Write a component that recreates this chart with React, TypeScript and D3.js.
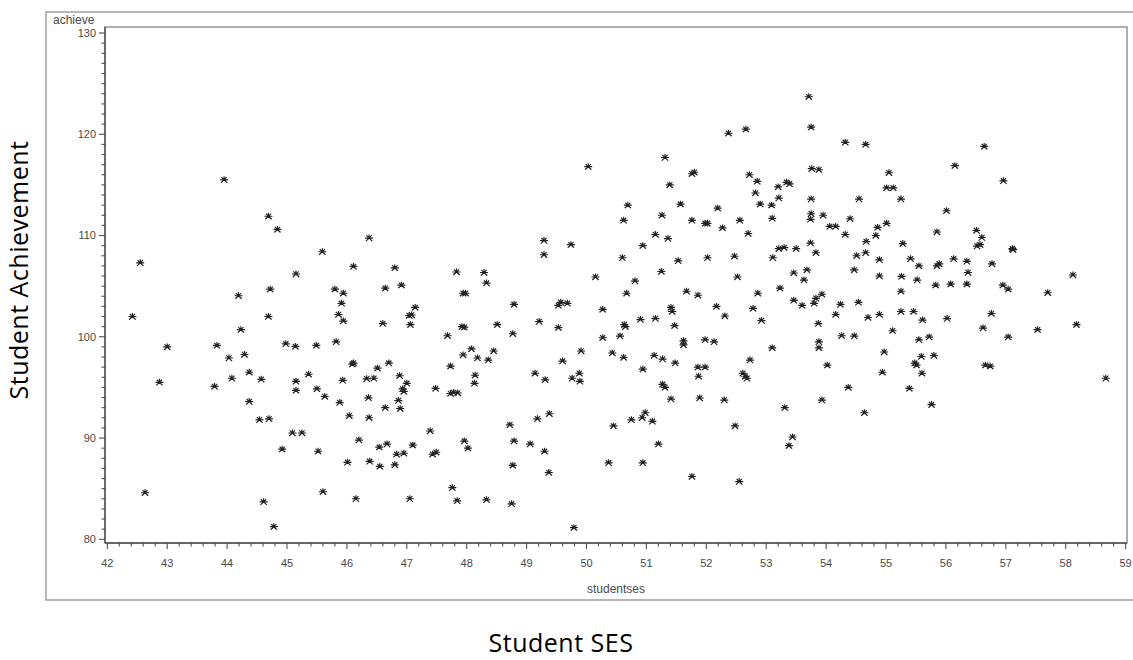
import React from "react";
import * as d3 from "d3";

// values (studentses, achieve)
const studentSes = [
  43.95, 44.69, 44.84, 42.55, 45.15, 44.72, 44.19, 42.42, 44.69, 44.23, 43.0, 43.83, 44.98, 45.14, 44.03, 44.29,
  44.37, 44.08, 44.57, 45.15, 45.36, 42.87, 43.79, 45.15, 44.37, 44.54, 44.7, 45.09, 45.25, 44.92, 42.63, 44.61,
  44.78,
  46.37, 45.59, 46.11, 46.8, 46.91, 45.8, 45.94, 46.64, 47.14, 45.91, 45.86, 45.94, 47.04, 47.08, 47.06, 46.6,
  45.49, 45.82, 46.09, 46.11, 46.7, 46.51, 45.93, 46.33, 46.45, 46.88, 47.0, 46.93, 46.95, 45.5, 45.63, 46.36,
  45.88, 46.86, 46.64, 46.89, 46.04, 46.37, 46.2, 46.54, 46.67, 45.52, 46.83, 46.95, 47.1, 46.01, 46.38, 46.55,
  46.8, 45.6, 46.15, 47.05,
  47.83, 48.29, 48.33, 47.94, 47.98, 48.79, 47.92, 47.96, 48.51, 48.77, 47.68, 48.08, 47.94, 48.18, 48.45, 48.36,
  47.73, 48.14, 48.13, 47.48, 47.73, 47.78, 47.85, 48.72, 48.79, 47.39, 47.96, 48.02, 47.43, 47.49, 48.77, 47.76,
  47.84, 48.33, 48.75,
  51.31, 50.03, 51.76, 51.8, 51.39, 50.69, 51.57, 52.19, 50.62, 51.26, 51.76, 51.98, 52.02, 51.15, 51.36, 49.29,
  49.29, 49.74, 50.94, 50.6, 51.53, 52.02, 51.25, 50.15, 50.81, 50.67, 51.67, 51.86, 49.53, 49.57, 49.68, 50.27,
  52.17, 51.41, 51.43, 49.21, 49.53, 50.63, 50.65, 50.9, 51.15, 51.47, 50.27, 50.56, 51.62, 51.62, 51.98, 52.13,
  49.91, 50.43, 50.62, 51.13, 51.27, 51.48, 49.6, 49.14, 49.31, 49.76, 49.88, 49.89, 50.94, 51.86, 51.98, 51.87,
  51.27, 51.31, 51.41, 51.89, 49.18, 49.38, 50.45, 50.75, 50.93, 50.98, 51.1, 49.06, 49.3, 51.2, 49.37, 50.37,
  50.94, 51.76, 49.79,
  53.71, 53.75, 52.37, 52.66, 54.32, 54.66, 52.72, 52.85, 53.76, 53.88, 55.05, 52.82, 53.2, 53.34, 53.39, 55.01,
  55.12, 52.9, 53.09, 53.21, 53.75, 54.55, 55.25, 52.56, 52.27, 52.7, 53.1, 53.75, 53.74, 53.95, 54.06, 54.16,
  54.32, 54.4, 54.86, 54.83, 55.01, 55.28, 54.67, 54.66, 54.51, 54.89, 52.47, 53.11, 53.21, 53.3, 53.5, 53.74,
  53.83, 55.41, 55.55, 52.52, 53.46, 53.68, 53.63, 54.47, 54.89, 55.26, 55.52, 52.86, 53.23, 55.25, 52.78, 52.31,
  52.92, 53.46, 53.6, 53.8, 53.83, 53.93, 54.24, 54.54, 54.16, 54.7, 54.89, 55.25, 55.46, 55.61, 53.87, 55.11,
  54.26, 54.47, 53.88, 53.88, 53.1, 55.55, 54.97, 55.59, 52.73, 54.02, 55.48, 55.51, 52.61, 52.65, 52.68, 54.94,
  55.6, 54.37, 55.39, 52.3, 53.93, 53.31, 54.64, 52.48, 53.44, 53.38, 52.55,
  56.64, 56.15, 56.96, 56.01, 55.85, 56.51, 56.6, 56.52, 56.57, 57.11, 57.12, 55.85, 55.89, 56.13, 56.35, 56.37,
  56.77, 58.12, 55.83, 56.08, 56.35, 56.95, 57.04, 57.7, 56.02, 56.76, 56.62, 57.53, 58.18, 55.72, 57.04, 55.8,
  56.66, 56.74, 58.67, 55.76,
];

const achieve = [
  115.5, 111.9, 110.6, 107.3, 106.2, 104.7, 104.05, 102.0, 102.0, 100.7, 99.0, 99.15, 99.3, 99.05, 97.9, 98.25,
  96.5, 95.9, 95.8, 95.6, 96.3, 95.5, 95.1, 94.7, 93.6, 91.8, 91.9, 90.5, 90.5, 88.9, 84.6, 83.7,
  81.25,
  109.75, 108.4, 106.95, 106.8, 105.1, 104.7, 104.3, 104.8, 102.9, 103.3, 102.2, 101.55, 102.1, 102.15, 101.2, 101.3,
  99.15, 99.5, 97.3, 97.4, 97.4, 96.9, 95.7, 95.85, 95.9, 96.15, 95.4, 94.85, 94.6, 94.85, 94.1, 93.97,
  93.5, 93.7, 93.0, 92.9, 92.2, 92.0, 89.8, 89.1, 89.4, 88.7, 88.4, 88.5, 89.3, 87.6, 87.7, 87.2,
  87.35, 84.7, 84.0, 84.0,
  106.4, 106.35, 105.3, 104.3, 104.3, 103.2, 101.0, 100.95, 101.2, 100.3, 100.1, 98.8, 98.2, 97.9, 98.6, 97.7,
  97.1, 96.2, 95.4, 94.9, 94.4, 94.5, 94.45, 91.3, 89.7, 90.7, 89.7, 89.0, 88.4, 88.6, 87.3, 85.1,
  83.8, 83.9, 83.5,
  117.7, 116.8, 116.1, 116.25, 115.0, 113.0, 113.1, 112.7, 111.5, 112.0, 111.5, 111.2, 111.2, 110.1, 109.7, 109.5,
  108.1, 109.1, 109.0, 107.8, 107.5, 107.8, 106.45, 105.9, 105.5, 104.3, 104.5, 104.1, 103.1, 103.4, 103.3, 102.7,
  103.0, 102.9, 102.5, 101.5, 100.9, 101.2, 101.0, 101.7, 101.8, 101.1, 99.9, 100.07, 99.6, 99.2, 99.7, 99.5,
  98.6, 98.4, 97.95, 98.15, 97.8, 97.4, 97.6, 96.4, 95.75, 95.9, 96.4, 95.6, 96.8, 97.0, 97.0, 96.1,
  95.3, 95.0, 93.85, 93.95, 91.9, 92.4, 91.2, 91.8, 92.0, 92.5, 91.65, 89.4, 88.7, 89.4, 86.6, 87.55,
  87.55, 86.2, 81.15,
  123.7, 120.7, 120.1, 120.5, 119.2, 119.0, 116.0, 115.35, 116.6, 116.5, 116.2, 114.2, 114.8, 115.25, 115.1, 114.7,
  114.7, 113.1, 113.0, 113.7, 113.6, 113.6, 113.6, 111.5, 110.75, 110.2, 111.7, 112.15, 111.6, 112.0, 110.9, 110.9,
  110.1, 111.66, 110.8, 110.0, 111.2, 109.2, 109.4, 108.3, 108.0, 107.6, 107.95, 107.8, 108.7, 108.8, 108.7, 109.25,
  108.3, 107.7, 107.0, 105.9, 106.3, 106.6, 105.6, 106.6, 106.0, 105.96, 105.6, 104.3, 104.8, 104.5, 102.8, 102.05,
  101.6, 103.6, 103.1, 103.3, 103.8, 104.2, 103.2, 103.4, 102.2, 101.9, 102.2, 102.5, 102.5, 101.65, 101.3, 100.6,
  100.1, 100.07, 99.5, 98.9, 98.9, 99.7, 98.5, 98.05, 97.7, 97.2, 97.4, 97.2, 96.4, 96.1, 95.9, 96.5,
  96.4, 95.0, 94.9, 93.75, 93.75, 93.0, 92.5, 91.2, 90.1, 89.25, 85.7,
  118.8, 116.9, 115.4, 112.45, 110.35, 110.5, 109.8, 108.96, 109.1, 108.7, 108.6, 107.0, 107.2, 107.7, 107.45, 106.35,
  107.2, 106.1, 105.1, 105.2, 105.2, 105.1, 104.7, 104.35, 101.8, 102.3, 100.86, 100.7, 101.2, 99.97, 99.97, 98.15,
  97.2, 97.1, 95.9, 93.3,
];

const xTickLabels = [42, 43, 44, 45, 46, 47, 48, 49, 50, 51, 52, 53, 54, 55, 56, 57, 58, 59];
const yTickLabels = [80, 90, 100, 110, 120, 130];
const xName = "studentses";
const yName = "achieve";
const outerXTitle = "Student SES";
const outerYTitle = "Student Achievement";

const W = 1133;
const H = 660;

export default function App() {
  const x = d3.scaleLinear().domain([42, 59]).range([107.3, 1125.6]);
  const y = d3.scaleLinear().domain([80, 130]).range([539.3, 33]);

  const plotL = 105;
  const plotR = 1127;
  const plotT = 27;
  const plotB = 543;

  const xMinor = d3.range(42, 59.001, 0.2).map((v) => +v.toFixed(1));
  const yMinor = d3.range(80, 130.001, 1);

  const points = studentSes.map((s, i) => ({ s, a: achieve[i] }));

  // SAS-style star marker
  const star = "M-4,0H4M0,-3.5V0M0,0L-3.2,3M0,0L3.2,3M-2.6,-2.6L2.6,2.6M2.6,-2.6L-2.6,2.6";

  return (
    <svg
      width={W}
      height={H}
      style={{ position: "absolute", left: 0, top: 0, background: "#fff" }}
    >
      {/* outer graph frame */}
      <rect x={46} y={12} width={1120} height={588} fill="#fff" stroke="#a6a6a6" strokeWidth={1.6} />

      {/* plot area */}
      <rect x={plotL} y={plotT} width={plotR - plotL} height={plotB - plotT} fill="#fff" stroke="#8a8a8a" strokeWidth={1.4} />
      <line x1={plotL} x2={plotL} y1={plotT} y2={plotB} stroke="#505050" strokeWidth={1.4} />
      <line x1={plotL} x2={plotR} y1={plotB} y2={plotB} stroke="#505050" strokeWidth={1.4} />

      {/* x ticks */}
      {xMinor.map((v) => {
        const major = Math.abs(v - Math.round(v)) < 1e-6;
        return (
          <line key={"xm" + v} x1={x(v)} x2={x(v)} y1={plotB} y2={plotB + (major ? 6 : 3.5)} stroke="#505050" strokeWidth={1.1} />
        );
      })}
      {xTickLabels.map((v) => (
        <text key={"xl" + v} x={x(v)} y={567} textAnchor="middle" fontFamily="'Liberation Sans', Arial, sans-serif" fontSize={11} fill="#4a4a4a">
          {v}
        </text>
      ))}

      {/* y ticks */}
      {yMinor.map((v) => {
        const major = v % 10 === 0;
        return (
          <line key={"ym" + v} x1={plotL} x2={plotL - (major ? 6 : 3.5)} y1={y(v)} y2={y(v)} stroke="#505050" strokeWidth={1.1} />
        );
      })}
      {yTickLabels.map((v) => (
        <text key={"yl" + v} x={96} y={y(v)} dy="0.36em" textAnchor="end" fontFamily="'Liberation Sans', Arial, sans-serif" fontSize={11} fill="#4a4a4a">
          {v}
        </text>
      ))}

      {/* axis names */}
      <text x={53} y={24} fontFamily="'Liberation Sans', Arial, sans-serif" fontSize={12} fill="#4a4a4a">
        {yName}
      </text>
      <text x={(plotL + plotR) / 2} y={593} textAnchor="middle" fontFamily="'Liberation Sans', Arial, sans-serif" fontSize={12} fill="#4a4a4a">
        {xName}
      </text>

      {/* points */}
      {points.map((p, i) => (
        <path key={i} d={star} transform={`translate(${x(p.s)},${y(p.a)})`} fill="none" stroke="#222" strokeWidth={1.15} />
      ))}

      {/* outer titles */}
      <text x={561} y={652} textAnchor="middle" fontFamily="'Open Sans', sans-serif" fontSize={25} letterSpacing={0.5} fill="#000">
        {outerXTitle}
      </text>
      <text
        transform="translate(28,270) rotate(-90)"
        textAnchor="middle"
        fontFamily="'Open Sans', sans-serif"
        fontSize={25}
        letterSpacing={0.5}
        fill="#000"
      >
        {outerYTitle}
      </text>
    </svg>
  );
}
